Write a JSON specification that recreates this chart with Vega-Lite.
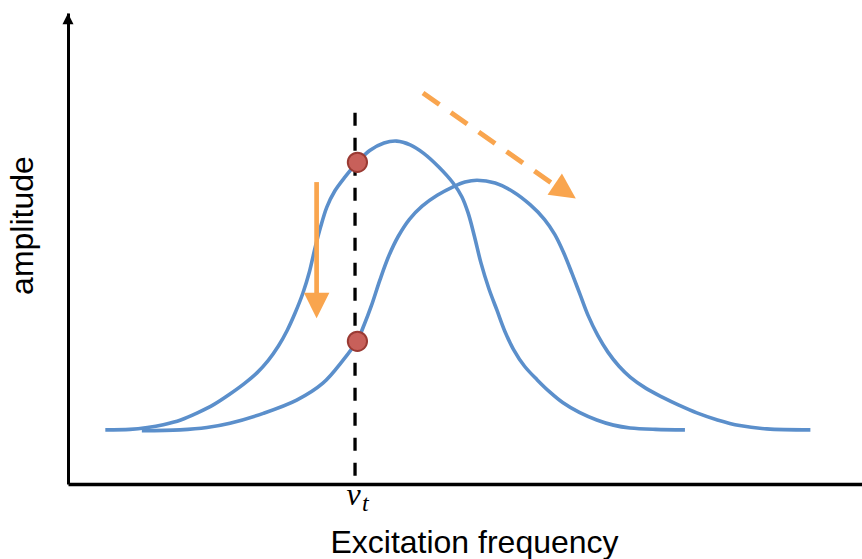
{
  "$schema": "https://vega.github.io/schema/vega-lite/v6.json",
  "width": 794,
  "height": 471,
  "autosize": {"type": "none"},
  "padding": {"left": 68, "top": 13, "right": 0, "bottom": 75},
  "background": "white",
  "config": {"view": {"stroke": null}},
  "datasets": {
    "curves": [
      {"curve": "A", "x": 4.7, "y": 11.5}, {"curve": "A", "x": 7.8, "y": 11.6}, {"curve": "A", "x": 10.0, "y": 12.0},
      {"curve": "A", "x": 12.0, "y": 12.6}, {"curve": "A", "x": 14.2, "y": 13.6}, {"curve": "A", "x": 16.3, "y": 15.1},
      {"curve": "A", "x": 18.4, "y": 16.9}, {"curve": "A", "x": 20.4, "y": 19.1}, {"curve": "A", "x": 22.2, "y": 21.3},
      {"curve": "A", "x": 23.8, "y": 23.6}, {"curve": "A", "x": 25.2, "y": 26.2}, {"curve": "A", "x": 26.5, "y": 29.3},
      {"curve": "A", "x": 27.6, "y": 32.6}, {"curve": "A", "x": 28.6, "y": 36.3}, {"curve": "A", "x": 29.6, "y": 40.6},
      {"curve": "A", "x": 30.4, "y": 45.0}, {"curve": "A", "x": 31.1, "y": 50.0}, {"curve": "A", "x": 31.8, "y": 54.5},
      {"curve": "A", "x": 32.6, "y": 58.8}, {"curve": "A", "x": 33.6, "y": 62.2}, {"curve": "A", "x": 34.9, "y": 65.2},
      {"curve": "A", "x": 36.4, "y": 68.2}, {"curve": "A", "x": 38.0, "y": 70.8}, {"curve": "A", "x": 39.8, "y": 72.4},
      {"curve": "A", "x": 41.4, "y": 72.8}, {"curve": "A", "x": 43.1, "y": 72.0}, {"curve": "A", "x": 44.8, "y": 70.2},
      {"curve": "A", "x": 46.7, "y": 67.3}, {"curve": "A", "x": 48.5, "y": 63.9}, {"curve": "A", "x": 49.6, "y": 61.0},
      {"curve": "A", "x": 50.4, "y": 57.5}, {"curve": "A", "x": 51.2, "y": 52.5}, {"curve": "A", "x": 52.0, "y": 47.0},
      {"curve": "A", "x": 53.0, "y": 41.5}, {"curve": "A", "x": 54.0, "y": 37.0}, {"curve": "A", "x": 55.0, "y": 32.5},
      {"curve": "A", "x": 56.1, "y": 28.6}, {"curve": "A", "x": 57.5, "y": 25.0}, {"curve": "A", "x": 59.1, "y": 22.1},
      {"curve": "A", "x": 60.7, "y": 19.5}, {"curve": "A", "x": 62.3, "y": 17.3}, {"curve": "A", "x": 64.4, "y": 15.2},
      {"curve": "A", "x": 66.6, "y": 13.6}, {"curve": "A", "x": 68.7, "y": 12.5}, {"curve": "A", "x": 70.8, "y": 11.9},
      {"curve": "A", "x": 74.0, "y": 11.6}, {"curve": "A", "x": 77.7, "y": 11.5},
      {"curve": "B", "x": 9.3, "y": 11.3}, {"curve": "B", "x": 14.1, "y": 11.5}, {"curve": "B", "x": 17.5, "y": 12.0},
      {"curve": "B", "x": 20.4, "y": 12.9}, {"curve": "B", "x": 24.6, "y": 15.0}, {"curve": "B", "x": 28.8, "y": 17.8},
      {"curve": "B", "x": 32.1, "y": 21.4}, {"curve": "B", "x": 34.6, "y": 26.2}, {"curve": "B", "x": 36.4, "y": 30.4},
      {"curve": "B", "x": 37.3, "y": 33.8}, {"curve": "B", "x": 38.2, "y": 37.8}, {"curve": "B", "x": 39.3, "y": 43.4},
      {"curve": "B", "x": 40.4, "y": 48.4}, {"curve": "B", "x": 41.6, "y": 52.6}, {"curve": "B", "x": 43.0, "y": 56.2},
      {"curve": "B", "x": 44.6, "y": 59.0}, {"curve": "B", "x": 46.5, "y": 61.3}, {"curve": "B", "x": 48.5, "y": 63.1},
      {"curve": "B", "x": 50.0, "y": 64.1}, {"curve": "B", "x": 51.5, "y": 64.5}, {"curve": "B", "x": 53.8, "y": 63.9},
      {"curve": "B", "x": 56.1, "y": 62.0}, {"curve": "B", "x": 58.2, "y": 59.3}, {"curve": "B", "x": 60.0, "y": 56.2},
      {"curve": "B", "x": 61.3, "y": 53.0}, {"curve": "B", "x": 62.4, "y": 49.2}, {"curve": "B", "x": 63.5, "y": 44.6},
      {"curve": "B", "x": 64.5, "y": 40.2}, {"curve": "B", "x": 65.5, "y": 35.8}, {"curve": "B", "x": 66.7, "y": 31.6},
      {"curve": "B", "x": 68.0, "y": 28.0}, {"curve": "B", "x": 69.4, "y": 25.0}, {"curve": "B", "x": 70.8, "y": 22.7},
      {"curve": "B", "x": 72.8, "y": 20.3}, {"curve": "B", "x": 74.9, "y": 18.4}, {"curve": "B", "x": 77.0, "y": 16.7},
      {"curve": "B", "x": 79.2, "y": 15.1}, {"curve": "B", "x": 81.8, "y": 13.6}, {"curve": "B", "x": 84.6, "y": 12.4},
      {"curve": "B", "x": 88.0, "y": 11.7}, {"curve": "B", "x": 93.5, "y": 11.5}
    ],
    "threshold": [{"x": 36.15, "y": 78.8, "y2": 0}],
    "dots": [{"x": 36.45, "y": 68.3}, {"x": 36.45, "y": 30.3}],
    "shaft": [{"x": 31.31, "y": 64.1, "y2": 40.3}],
    "diag": [{"x": 44.71, "y": 83.0, "x2": 61.15, "y2": 63.6}],
    "headDown": [{"x": 31.31, "y": 37.9}],
    "headDiag": [{"x": 62.63, "y": 62.14}],
    "axisHead": [{"x": 0, "y": 98.8}],
    "nu": [{"x": 35.97, "y": -4.46, "label": "ν"}],
    "sub": [{"x": 37.03, "y": -5.8, "label": "t"}]
  },
  "encoding": {
    "x": {
      "field": "x", "type": "quantitative",
      "scale": {"domain": [0, 100], "nice": false, "zero": false},
      "axis": {
        "title": "Excitation frequency", "domain": true, "domainColor": "black", "domainWidth": 3.5,
        "ticks": false, "labels": false, "grid": false,
        "titleFont": "Liberation Sans", "titleFontSize": 32, "titleFontWeight": "normal", "titleColor": "black",
        "titleX": 406, "titleY": 68, "titleBaseline": "alphabetic", "titleAlign": "center"
      }
    },
    "y": {
      "field": "y", "type": "quantitative",
      "scale": {"domain": [0, 100], "nice": false, "zero": false},
      "axis": {
        "title": "amplitude", "domain": true, "domainColor": "black", "domainWidth": 3,
        "ticks": false, "labels": false, "grid": false,
        "titleFont": "Liberation Sans", "titleFontSize": 32, "titleFontWeight": "normal", "titleColor": "black",
        "titleX": -29, "titleY": 212, "titleAngle": -90, "titleBaseline": "bottom", "titleAlign": "center"
      }
    }
  },
  "layer": [
    {
      "data": {"name": "curves"},
      "mark": {"type": "line", "interpolate": "catmull-rom", "color": "#5B8FCB", "strokeWidth": 3.6},
      "encoding": {"detail": {"field": "curve", "type": "nominal"}}
    },
    {
      "data": {"name": "threshold"},
      "mark": {"type": "rule", "color": "black", "strokeWidth": 3.3, "strokeDash": [13, 12]},
      "encoding": {"y2": {"field": "y2"}}
    },
    {
      "data": {"name": "dots"},
      "mark": {"type": "point", "shape": "circle", "filled": true, "fill": "#C8605A", "stroke": "#9A3A33", "strokeWidth": 2, "size": 370, "opacity": 1}
    },
    {
      "data": {"name": "shaft"},
      "mark": {"type": "rule", "color": "#F9A54E", "strokeWidth": 4.7},
      "encoding": {"y2": {"field": "y2"}}
    },
    {
      "data": {"name": "diag"},
      "mark": {"type": "rule", "color": "#F9A54E", "strokeWidth": 5, "strokeDash": [20, 14]},
      "encoding": {"x2": {"field": "x2"}, "y2": {"field": "y2"}}
    },
    {
      "data": {"name": "headDown"},
      "mark": {"type": "point", "shape": "M-1,-1L1,-1L0,1Z", "filled": true, "fill": "#F9A54E", "strokeWidth": 0, "size": 650, "opacity": 1}
    },
    {
      "data": {"name": "headDiag"},
      "mark": {"type": "point", "shape": "M-1,-1L1,-1L0,1Z", "filled": true, "fill": "#F9A54E", "strokeWidth": 0, "size": 650, "opacity": 1, "angle": 304.3}
    },
    {
      "data": {"name": "axisHead"},
      "mark": {"type": "point", "shape": "M0,-1L1,1L-1,1Z", "filled": true, "fill": "black", "strokeWidth": 0, "size": 121, "opacity": 1}
    },
    {
      "data": {"name": "nu"},
      "mark": {"type": "text", "font": "Liberation Serif", "fontStyle": "italic", "fontSize": 32, "align": "center", "baseline": "alphabetic", "color": "black"},
      "encoding": {"text": {"field": "label"}}
    },
    {
      "data": {"name": "sub"},
      "mark": {"type": "text", "font": "Liberation Serif", "fontStyle": "italic", "fontSize": 24, "align": "left", "baseline": "alphabetic", "color": "black"},
      "encoding": {"text": {"field": "label"}}
    }
  ]
}
